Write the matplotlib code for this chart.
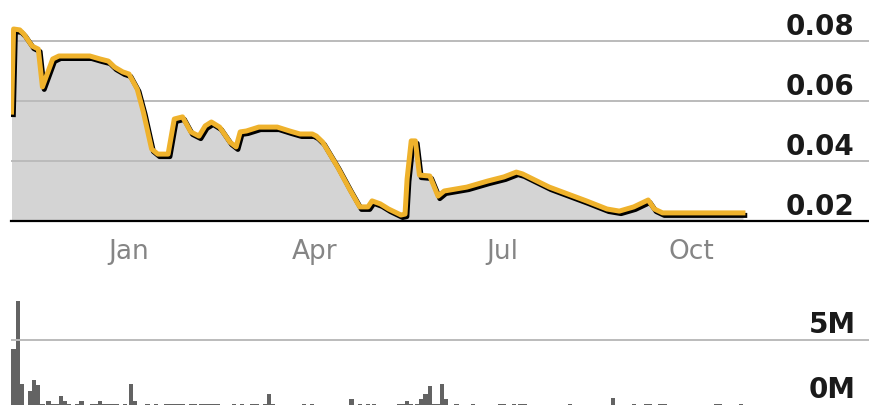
import pandas as pd
import matplotlib
matplotlib.use("Agg")
import matplotlib.pyplot as plt
import matplotlib.patheffects as pe

# price series
price_dates = [
    "2022-11-05", "2022-11-06", "2022-11-09", "2022-11-11", "2022-11-15", "2022-11-18",
    "2022-11-20", "2022-11-25", "2022-11-28", "2022-12-13", "2022-12-18", "2022-12-22",
    "2022-12-25", "2022-12-29", "2023-01-01", "2023-01-05", "2023-01-08", "2023-01-12",
    "2023-01-15", "2023-01-20", "2023-01-23", "2023-01-27", "2023-01-31", "2023-02-04",
    "2023-02-07", "2023-02-10", "2023-02-14", "2023-02-19", "2023-02-22", "2023-02-24",
    "2023-02-27", "2023-03-05", "2023-03-14", "2023-03-20", "2023-03-25", "2023-03-31",
    "2023-04-02", "2023-04-05", "2023-04-12", "2023-04-18", "2023-04-23", "2023-04-27",
    "2023-04-29", "2023-05-03", "2023-05-07", "2023-05-13", "2023-05-15", "2023-05-16",
    "2023-05-18", "2023-05-20", "2023-05-22", "2023-05-27", "2023-05-31", "2023-06-03",
    "2023-06-14", "2023-06-24", "2023-07-02", "2023-07-08", "2023-07-11", "2023-07-16",
    "2023-07-24", "2023-08-02", "2023-08-11", "2023-08-21", "2023-08-27", "2023-09-03",
    "2023-09-10", "2023-09-13", "2023-09-17", "2023-10-26",
]
price_values = [
    0.0563, 0.0840, 0.0837, 0.0823, 0.0783, 0.0773,
    0.0647, 0.0740, 0.0750, 0.0750, 0.0740, 0.0733,
    0.0713, 0.0697, 0.0690, 0.0640, 0.0563, 0.0440,
    0.0423, 0.0423, 0.0540, 0.0547, 0.0497, 0.0483,
    0.0517, 0.0530, 0.0513, 0.0463, 0.0447, 0.0497,
    0.0500, 0.0513, 0.0513, 0.0500, 0.0490, 0.0490,
    0.0483, 0.0463, 0.0383, 0.0307, 0.0247, 0.0247,
    0.0267, 0.0257, 0.0240, 0.0220, 0.0223, 0.0340,
    0.0467, 0.0467, 0.0353, 0.0350, 0.0283, 0.0300,
    0.0313, 0.0333, 0.0347, 0.0363, 0.0357, 0.0340,
    0.0313, 0.0290, 0.0267, 0.0240, 0.0233, 0.0247,
    0.0270, 0.0240, 0.0227, 0.0227,
]

# volume bars, millions
vol_dates = [
    "2022-11-06", "2022-11-08", "2022-11-10", "2022-11-14", "2022-11-16", "2022-11-18",
    "2022-11-20", "2022-11-23", "2022-11-25", "2022-11-27", "2022-11-29", "2022-12-01",
    "2022-12-03", "2022-12-07", "2022-12-09", "2022-12-14", "2022-12-16", "2022-12-18",
    "2022-12-20", "2022-12-22", "2022-12-24", "2022-12-26", "2022-12-30", "2023-01-02",
    "2023-01-04", "2023-01-10", "2023-01-14", "2023-01-19", "2023-01-21", "2023-01-23",
    "2023-01-25", "2023-01-27", "2023-01-31", "2023-02-02", "2023-02-05", "2023-02-07",
    "2023-02-09", "2023-02-11", "2023-02-13", "2023-02-21", "2023-02-25", "2023-03-02",
    "2023-03-04", "2023-03-08", "2023-03-10", "2023-03-12", "2023-03-27", "2023-03-31",
    "2023-04-19", "2023-04-23", "2023-04-27", "2023-04-30", "2023-05-12", "2023-05-14",
    "2023-05-16", "2023-05-18", "2023-05-21", "2023-05-23", "2023-05-25", "2023-05-27",
    "2023-05-29", "2023-05-31", "2023-06-02", "2023-06-04", "2023-06-09", "2023-06-17",
    "2023-06-30", "2023-07-02", "2023-07-07", "2023-07-10", "2023-07-12", "2023-08-03",
    "2023-08-24", "2023-09-03", "2023-09-09", "2023-09-11", "2023-09-16", "2023-09-18",
    "2023-10-13", "2023-10-15", "2023-10-25",
]
vol_values = [
    4.3, 8.0, 1.6, 1.1, 1.9, 1.5,
    0.08, 0.33, 0.08, 0.08, 0.7, 0.33,
    0.08, 0.08, 0.33, 0.08, 0.08, 0.33,
    0.08, 0.08, 0.08, 0.08, 0.08, 1.6,
    0.33, 0.08, 0.08, 0.08, 0.08, 0.08,
    0.08, 0.08, 0.08, 0.08, 0.08, 0.08,
    0.08, 0.08, 0.08, 0.08, 0.08, 0.08,
    0.08, 0.08, 0.85, 0.08, 0.08, 0.08,
    0.46, 0.08, 0.08, 0.08, 0.08, 0.08,
    0.3, 0.08, 0.08, 0.46, 0.85, 1.46,
    0.08, 0.08, 1.6, 0.46, 0.08, 0.08,
    0.08, 0.08, 0.08, 0.08, 0.08, 0.08,
    0.5, 0.08, 0.08, 0.08, 0.08, 0.08,
    0.08, 0.08, 0.08,
]

price_ticks = [0.02, 0.04, 0.06, 0.08]
price_labels = ["0.02", "0.04", "0.06", "0.08"]
month_ticks = ["2023-01-01", "2023-04-01", "2023-07-01", "2023-10-01"]
month_labels = ["Jan", "Apr", "Jul", "Oct"]
vol_ticks = [0, 5]
vol_labels = ["0M", "5M"]

gold = "#efb22c"
grid_c = "#bbbbbb"

pd_dates = pd.to_datetime(price_dates)
vd = pd.to_datetime(vol_dates)

fig = plt.figure(figsize=(8.7, 4.06), dpi=100)
ax = fig.add_axes([11 / 870, 184 / 406, 859 / 870, 222 / 406])
axv = fig.add_axes([11 / 870, 0, 859 / 870, 116 / 406], sharex=ax)

# price panel
ax.fill_between(pd_dates, price_values, 0, color="#d4d4d4", lw=0, zorder=1)
for t in price_ticks[1:]:
    ax.axhline(t, color=grid_c, lw=1.4, zorder=2)
ax.axhline(price_ticks[0], color="black", lw=1.6, zorder=3, clip_on=False)
ax.plot(pd_dates, price_values, color=gold, lw=3.6, solid_joinstyle="round", zorder=4,
        path_effects=[pe.SimpleLineShadow(offset=(1.3, -1.8), shadow_color="black", alpha=1.0),
                      pe.Normal()])
ax.set_ylim(0.02, 0.094)
ax.set_xlim(pd.Timestamp("2022-11-04 18:00"), pd.Timestamp("2023-12-26 16:00"))
for t, lbl in zip(price_ticks, price_labels):
    ax.annotate(lbl, xy=(1, t), xycoords=("axes fraction", "data"), xytext=(-11, 5),
                textcoords="offset points", ha="right", va="baseline",
                fontsize=20, fontweight="bold", color="#1a1a1a")
ax.set_xticks(pd.to_datetime(month_ticks))
ax.set_xticklabels(month_labels)
ax.tick_params(axis="x", length=0, pad=12, labelsize=19, labelcolor="#858585")
ax.set_yticks([])
for s in ax.spines.values():
    s.set_visible(False)

# volume panel
axv.bar(vd, vol_values, width=2.1, color="#636363", lw=0, zorder=1)
axv.axhline(vol_ticks[1], color=grid_c, lw=1.4, zorder=2)
axv.set_ylim(0, 8.9)
for t, lbl in zip(vol_ticks, vol_labels):
    axv.annotate(lbl, xy=(1, t), xycoords=("axes fraction", "data"), xytext=(-10, 5.5),
                 textcoords="offset points", ha="right", va="baseline",
                 fontsize=20, fontweight="bold", color="#1a1a1a")
axv.tick_params(axis="x", length=0, labelbottom=False)
axv.set_yticks([])
for s in axv.spines.values():
    s.set_visible(False)

fig.savefig("out.png", dpi=100)
